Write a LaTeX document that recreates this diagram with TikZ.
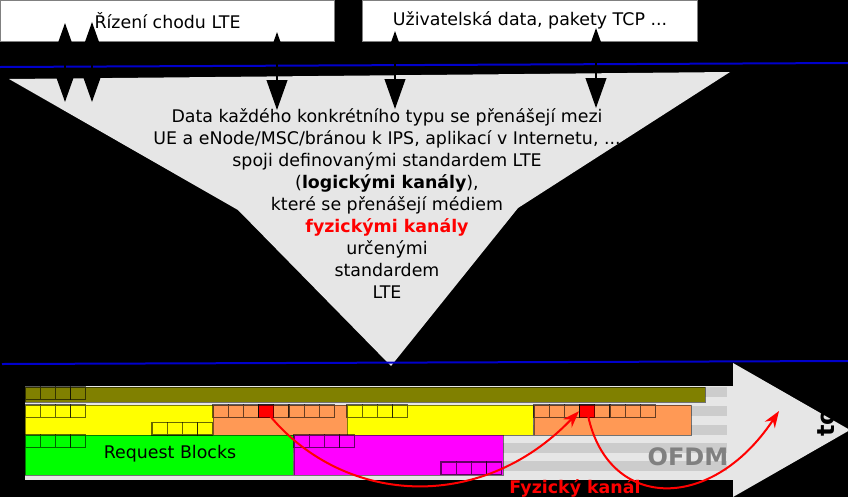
\documentclass[tikz,border=0pt]{standalone}
\usepackage{fontspec}
\setmainfont{DejaVu Sans}
\usepackage{tikz}
\usetikzlibrary{arrows.meta, positioning}
\definecolor{funnel}{HTML}{E6E6E6}
\definecolor{stripe}{HTML}{CCCCCC}
\definecolor{chol}{HTML}{808000}
\definecolor{chye}{HTML}{FFFF00}
\definecolor{chor}{HTML}{FF9955}
\definecolor{chgr}{HTML}{00FF00}
\definecolor{chma}{HTML}{FF00FF}
\definecolor{chred}{HTML}{FF0000}
\definecolor{ofdmgray}{HTML}{808080}
\definecolor{blueline}{HTML}{0000CC}
\tikzstyle{topbox} = [rectangle, draw=gray, fill=white, line width=0.03cm, minimum height=1.23cm]
\tikzstyle{chan} = [draw=black, draw opacity=0.5, line width=0.03cm]
\tikzstyle{rb} = [draw=black, draw opacity=0.6, line width=0.04cm]
\tikzstyle{dblarrow} = [black, line width=0.06cm, {Triangle[length=0.9cm,width=0.62cm]}-{Triangle[length=0.9cm,width=0.62cm]}]
\tikzstyle{redarrow} = [chred, line width=0.06cm, -{Stealth[length=0.5cm,width=0.36cm]}]
\tikzstyle{layerline} = [blueline, line width=0.06cm]
\newcommand{\rbrow}[4]{% x, y, count, colour
  \foreach \i in {1,...,#3} {
    \draw[rb, fill=#4] ({#1+(\i-1)*15.2},#2) rectangle ++(15.2,12.5);
  }
}

\begin{document}
\begin{tikzpicture}[x=0.03cm, y=-0.03cm, font=\fontsize{14.85}{18.78}\selectfont]

% background
\fill[black] (0,0) rectangle (848,497);
\useasboundingbox (0,0) rectangle (848,497);

% Top layer
\node[topbox, minimum width=10cm] (ctrl) at (167.5,20.5) {Řízení chodu LTE};
\node[topbox, minimum width=10.02cm] (userdata) at (530,20.5) {Uživatelská data, pakety TCP ...};
\draw[layerline] (0,67) -- (848,63);

% Funnel
\fill[funnel] (9,79) -- (730,72) -- (518,208) -- (391,366) -- (238,210) -- cycle;
\node[align=center, anchor=north, inner sep=0pt] (ftext) at (387,108) {Data každého konkrétního typu se přenášejí mezi\\UE a eNode/MSC/bránou k IPS, aplikací v Internetu, ...\\spoji definovanými standardem LTE\\(\textbf{logickými kanály}),\\které se přenášejí médiem\\\textcolor{chred}{\textbf{fyzickými kanály}}\\určenými\\standardem\\LTE};

% Arrows between layers
\coordinate (c1t) at (65,23);  \coordinate (c1b) at (65,102);
\coordinate (c2t) at (92,22);  \coordinate (c2b) at (92,102);
\coordinate (c3t) at (277,32); \coordinate (c3b) at (277,110);
\coordinate (u1t) at (395,31); \coordinate (u1b) at (395,109);
\coordinate (u2t) at (596,28); \coordinate (u2b) at (596,108);
\foreach \a in {c1,c2,c3,u1,u2} {
  \draw[dblarrow] (\a t) -- (\a b);
}
\draw[layerline] (2,364) -- (848,361);

% OFDM carrier arrow
\fill[funnel] (25,386) rectangle (733,480);
\fill[funnel] (733,363) -- (850,430) -- (733,497) -- cycle;
\foreach \y in {387,406,425,443,461} {
  \fill[stripe] (25,\y) rectangle (727,\y+10);
}
\node[text=ofdmgray, font=\bfseries\fontsize{20.5}{24}\selectfont] (ofdm) at (688,457) {OFDM};
\node[rotate=90, anchor=base west, font=\bfseries\fontsize{20.5}{24}\selectfont] (axis) at (834,441) {to};

% Channels
\draw[chan, fill=chol] (25,387) rectangle (705,402);
\draw[chan, fill=chye] (25,405) rectangle (213,435);
\draw[chan, fill=chor] (213,405) rectangle (347,435);
\draw[chan, fill=chye] (347,405) rectangle (533,435);
\draw[chan, fill=chor] (534,405) rectangle (691,435);
\draw[chan, fill=chgr] (25,435) rectangle (293,475);
\draw[chan, fill=chma] (294,435) rectangle (503,475);
\node (rq) at (170,454) {Request Blocks};

% Resource blocks
\rbrow{25}{387}{4}{chol}
\rbrow{25}{405}{4}{chye}
\rbrow{152}{422.5}{4}{chye}
\rbrow{213}{405}{8}{chor}
\rbrow{347}{405}{4}{chye}
\rbrow{534}{405}{8}{chor}
\rbrow{25}{435}{4}{chgr}
\rbrow{294}{435}{4}{chma}
\rbrow{441}{462}{4}{chma}
\node[rb, fill=chred, minimum width=0.456cm, minimum height=0.375cm, inner sep=0pt] (rc1) at (266.2,411.25) {};
\node[rb, fill=chred, minimum width=0.456cm, minimum height=0.375cm, inner sep=0pt] (rc2) at (587.2,411.25) {};

% Physical channel
\coordinate (t2) at (779,411);
\draw[redarrow] (rc1.center) .. controls (340,505) and (480,515) .. (rc2.west);
\draw[redarrow] (rc2.center) .. controls (605,510) and (710,515) .. (t2);
\node[text=chred, font=\fontsize{14.85}{18.78}\selectfont\bfseries] (fk) at (575,488) {Fyzický kanál};

\end{tikzpicture}
\end{document}
